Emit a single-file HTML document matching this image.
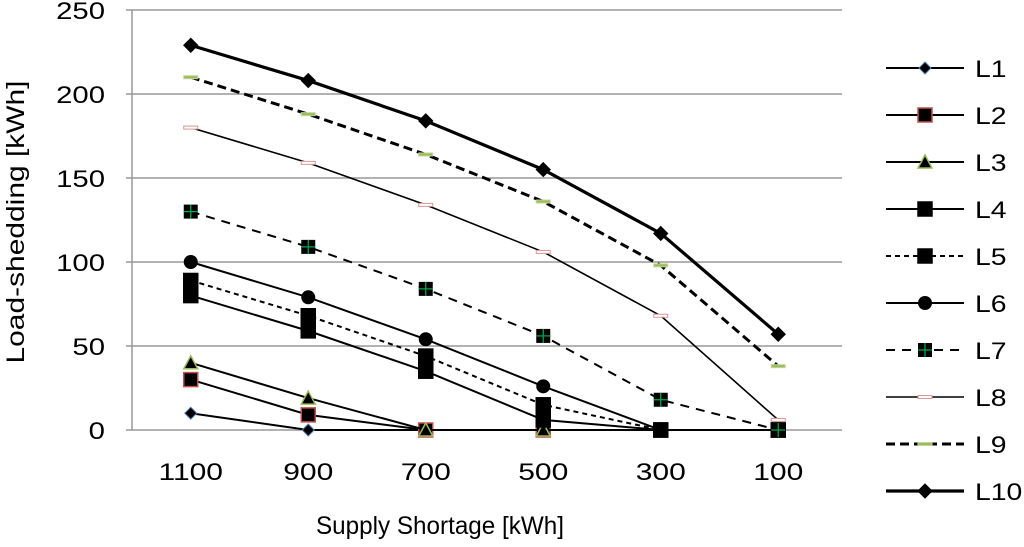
<!DOCTYPE html>
<html><head><meta charset="utf-8"><style>
body{margin:0;background:#fff;font-family:"Liberation Sans",Arial,sans-serif}
svg text{font-family:"Liberation Sans",Arial,sans-serif;fill:#000}
</style></head><body>
<svg id="c" width="1024" height="542" xmlns="http://www.w3.org/2000/svg"></svg>
<script>
const categories=["1100","900","700","500","300","100"];
const yTicks=[0,50,100,150,200,250];
const L1=[10,0,0,0,0,0];
const L2=[30,9,0,0,0,0];
const L3=[40,19,0,0,0,0];
const L4=[80,59,35,6,0,0];
const L5=[89,68,44,15,0,0];
const L6=[100,79,54,26,0,0];
const L7=[130,109,84,56,18,0];
const L8=[180,159,134,106,68,6];
const L9=[210,188,164,136,98,38];
const L10=[229,208,184,155,117,57];
const seriesNames=["L1","L2","L3","L4","L5","L6","L7","L8","L9","L10"];
const seriesData=[L1,L2,L3,L4,L5,L6,L7,L8,L9,L10];
const styles=[
 {w:2,dash:"",m:"diamond",s:6,fill:"#000",stroke:"#4f81bd"},
 {w:2,dash:"",m:"square",s:7,fill:"#000",stroke:"#c0504d"},
 {w:2,dash:"",m:"triangle",s:7,fill:"#000",stroke:"#9bbb59"},
 {w:2,dash:"",m:"square",s:7,fill:"#000",stroke:"#000"},
 {w:2,dash:"5,4",m:"square",s:7,fill:"#000",stroke:"#000"},
 {w:2,dash:"",m:"circle",s:7,fill:"#000",stroke:"#000"},
 {w:2,dash:"9,7",m:"plus",s:7,fill:"#000",stroke:"#00b050"},
 {w:1.6,dash:"",m:"dash",s:7,fill:"#fff",stroke:"#d99694"},
 {w:3,dash:"9,5",m:"dash",s:7,fill:"#9bbb59",stroke:"#c3d69b"},
 {w:3.2,dash:"",m:"diamond",s:7,fill:"#000",stroke:"#000"}
];
const svg=document.getElementById('c');
const NS="http://www.w3.org/2000/svg";
const X0=132,X1=837,Y0=430,Y1=10,YMAX=250;
const xs=i=>X0+(i+0.5)*(X1-X0)/categories.length;
const ys=v=>Y0-(v/YMAX)*(Y0-Y1);
function el(t,a,p){const e=document.createElementNS(NS,t);for(const k in a)e.setAttribute(k,a[k]);(p||svg).appendChild(e);return e;}
function stretch(t,f){const w=t.getComputedTextLength();t.setAttribute('textLength',w*f);t.setAttribute('lengthAdjust','spacingAndGlyphs');}
yTicks.forEach(v=>{
 const g=el('line',{x1:X0-6,x2:842,y1:ys(v),y2:ys(v),stroke:'#999','stroke-width':1.5});
 
 
 const t=el('text',{x:105,y:ys(v)+9,'text-anchor':'end','font-size':24});
 t.textContent=v;
 
 
 stretch(t,1.22);
});
const ax=el('line',{x1:X0,x2:X0,y1:Y1,y2:Y0,stroke:'#999','stroke-width':1.5});


categories.forEach((c,i)=>{
 const t=el('text',{x:xs(i),y:480,'text-anchor':'middle','font-size':24});
 t.textContent=c;
 
 
 stretch(t,1.25);
});
function marker(g,st,x,y){
 const s=st.s;let e;
 if(st.m==='diamond')e=el('polygon',{points:`${x},${y-s} ${x+s},${y} ${x},${y+s} ${x-s},${y}`,fill:st.fill,stroke:st.stroke,'stroke-width':1},g);
 else if(st.m==='square')e=el('rect',{x:x-s,y:y-s,width:2*s,height:2*s,fill:st.fill,stroke:st.stroke,'stroke-width':1.5},g);
 else if(st.m==='triangle')e=el('polygon',{points:`${x},${y-s} ${x+s},${y+s-1} ${x-s},${y+s-1}`,fill:st.fill,stroke:st.stroke,'stroke-width':1.5},g);
 else if(st.m==='circle')e=el('circle',{cx:x,cy:y,r:s,fill:st.fill},g);
 else if(st.m==='plus'){e=el('rect',{x:x-s,y:y-s,width:2*s,height:2*s,fill:'#000'},g);
  el('line',{x1:x-s,x2:x+s,y1:y,y2:y,stroke:st.stroke,'stroke-width':1.2},g);
  el('line',{x1:x,x2:x,y1:y-s,y2:y+s,stroke:st.stroke,'stroke-width':1.2},g);}
 else e=el('rect',{x:x-s,y:y-1.5,width:2*s,height:3,fill:st.fill,stroke:st.stroke,'stroke-width':1},g);
 return e;
}
seriesData.forEach((d,si)=>{
 const st=styles[si];
 const g=el('g',{});
 
 
 const pts=d.map((v,i)=>xs(i)+','+ys(v)).join(' ');
 el('polyline',{points:pts,fill:'none',stroke:'#000','stroke-width':st.w,'stroke-dasharray':st.dash},g);
 d.forEach((v,i)=>{const m=marker(g,st,xs(i),ys(v));
  
  });
 const ly=68+si*47;
 const lg=el('g',{});
 
 
 el('line',{x1:886,x2:964,y1:ly,y2:ly,stroke:'#000','stroke-width':st.w,'stroke-dasharray':st.dash},lg);
 marker(lg,st,925,ly);
 const t=el('text',{x:975,y:ly+9,'font-size':24},lg);
 t.textContent=seriesNames[si];
 stretch(t,1.18);
});
const xt=el('text',{x:440,y:534,'text-anchor':'middle','font-size':25});
xt.textContent='Supply Shortage [kWh]';


xt.setAttribute('textLength',248);
xt.setAttribute('lengthAdjust','spacingAndGlyphs');
const yt=el('text',{x:0,y:0,'text-anchor':'middle','font-size':25,transform:'translate(24,222) rotate(-90)'});
yt.textContent='Load-shedding [kWh]';


yt.setAttribute('textLength',283);
yt.setAttribute('lengthAdjust','spacingAndGlyphs');
</script>
</body></html>
